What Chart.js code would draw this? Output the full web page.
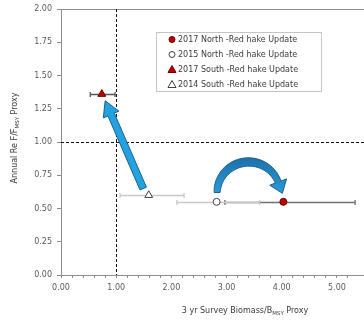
<!DOCTYPE html>
<html>
<head>
<meta charset="utf-8">
<script src="https://cdn.jsdelivr.net/npm/chart.js@4/dist/chart.umd.min.js"></script>
<style>
  html, body { margin: 0; padding: 0; background: #fff; overflow: hidden; }
  #wrap { width: 370px; height: 321px; position: relative; }
  #kobe { display: block; }
</style>
</head>
<body>
<div id="wrap"><canvas id="kobe"></canvas></div>
<script>
  // stock status points, one per assessment
  var seriesLabels = ['2017 North -Red hake Update', '2015 North -Red hake Update', '2017 South -Red hake Update', '2014 South -Red hake Update'];
  var biomassRatio = [4.03, 2.82, 0.74, 1.59];
  var fRatio       = [0.55, 0.55, 1.36, 0.60];
  var biomassLow   = [2.97, 2.10, 0.53, 1.07];
  var biomassHigh  = [5.33, 3.60, 0.98, 2.23];

  var markerStyle  = ['circle', 'circle', 'triangle', 'triangle'];
  var markerFill   = ['#c00000', '#ffffff', '#c00000', '#ffffff'];
  var markerEdge   = ['#6b0000', '#404040', '#6b0000', '#404040'];
  var markerSize   = [3.5, 3.5, 4.5, 4.5];
  var errColor     = ['#6e6e6e', '#c8c8c8', '#555555', '#c8c8c8'];

  // reference lines at F/Fmsy = 1 and B/Bmsy = 1
  var refX = 1.0, refY = 1.0;

  // arrows showing the change between assessments (data units)
  var southArrow = { from: [1.49, 0.65], to: [0.80, 1.31] };
  var northArc = { center: [3.40, 0.62], left: 2.83, top: 0.85 };

  var FONT = '"DejaVu Sans", Verdana, sans-serif';

  var datasets = seriesLabels.map(function (lbl, i) {
    return {
      label: lbl,
      data: [{ x: biomassRatio[i], y: fRatio[i] }],
      pointStyle: markerStyle[i],
      pointRadius: markerSize[i],
      pointBackgroundColor: markerFill[i],
      pointBorderColor: markerEdge[i],
      pointBorderWidth: 1,
      showLine: false
    };
  });

  function near(v) { return Math.abs(v - Math.round(v)) < 1e-6; }

  var decor = {
    id: 'decor',
    beforeDatasetsDraw: function (chart) {
      var c = chart.ctx, a = chart.chartArea, xs = chart.scales.x, ys = chart.scales.y;
      c.save();
      // frame
      c.strokeStyle = '#8c8c8c'; c.lineWidth = 1;
      c.strokeRect(a.left + 0.5, a.top + 0.5, a.right - a.left, a.bottom - a.top);
      // dashed reference lines
      c.strokeStyle = '#111'; c.setLineDash([3, 2]);
      var px = Math.round(xs.getPixelForValue(refX)) + 0.5;
      var py = Math.round(ys.getPixelForValue(refY)) + 0.5;
      c.beginPath(); c.moveTo(px, a.top); c.lineTo(px, a.bottom); c.stroke();
      c.beginPath(); c.moveTo(a.left, py); c.lineTo(a.right, py); c.stroke();
      c.setLineDash([]);

      // horizontal error bars
      for (var i = 0; i < biomassRatio.length; i++) {
        var y = Math.round(ys.getPixelForValue(fRatio[i])) + 0.5;
        var x0 = xs.getPixelForValue(biomassLow[i]), x1 = xs.getPixelForValue(biomassHigh[i]);
        c.strokeStyle = errColor[i]; c.lineWidth = 1.3;
        c.beginPath();
        c.moveTo(x0, y); c.lineTo(x1, y);
        c.moveTo(x0, y - 2.5); c.lineTo(x0, y + 2.5);
        c.moveTo(x1, y - 2.5); c.lineTo(x1, y + 2.5);
        c.stroke();
      }

      // straight arrow (south)
      var tx = xs.getPixelForValue(southArrow.from[0]), ty = ys.getPixelForValue(southArrow.from[1]);
      var hx = xs.getPixelForValue(southArrow.to[0]), hy = ys.getPixelForValue(southArrow.to[1]);
      var dx = hx - tx, dy = hy - ty, len = Math.sqrt(dx * dx + dy * dy);
      var ux = dx / len, uy = dy / len, nx = -uy, ny = ux;
      var sw = 3.5, hw = 8.5, hl = 15;
      var bx = hx - ux * hl, by = hy - uy * hl;
      c.beginPath();
      c.moveTo(tx + nx * sw, ty + ny * sw);
      c.lineTo(bx + nx * sw, by + ny * sw);
      c.lineTo(bx + nx * hw, by + ny * hw);
      c.lineTo(hx, hy);
      c.lineTo(bx - nx * hw, by - ny * hw);
      c.lineTo(bx - nx * sw, by - ny * sw);
      c.lineTo(tx - nx * sw, ty - ny * sw);
      c.closePath();
      c.fillStyle = '#24a2e0'; c.fill();
      c.strokeStyle = '#1a5f8e'; c.lineWidth = 1; c.stroke();

      // curved arrow (north)
      var cx = xs.getPixelForValue(northArc.center[0]), cy = ys.getPixelForValue(northArc.center[1]);
      var rx = cx - xs.getPixelForValue(northArc.left);
      var ry = cy - ys.getPixelForValue(northArc.top);
      var t0 = Math.PI, t1 = 2 * Math.PI - 0.35, steps = 40;
      var inner = [], outer = [];
      for (var k = 0; k <= steps; k++) {
        var t = t0 + (t1 - t0) * k / steps;
        var w = 3.0 + 1.2 * Math.sin((t - t0) / (t1 - t0) * Math.PI);
        var ex = cx + rx * Math.cos(t), ey = cy + ry * Math.sin(t);
        var gx = rx * Math.cos(t), gy = ry * Math.sin(t), gl = Math.sqrt(gx * gx + gy * gy);
        outer.push([ex + gx / gl * w, ey + gy / gl * w]);
        inner.push([ex - gx / gl * w, ey - gy / gl * w]);
      }
      var pe = [cx + rx * Math.cos(t1), cy + ry * Math.sin(t1)];
      var tdx = -rx * Math.sin(t1), tdy = ry * Math.cos(t1), tl = Math.sqrt(tdx * tdx + tdy * tdy);
      tdx /= tl; tdy /= tl;
      var ndx = -tdy, ndy = tdx;
      c.beginPath();
      c.moveTo(outer[0][0], outer[0][1]);
      for (k = 1; k <= steps; k++) c.lineTo(outer[k][0], outer[k][1]);
      c.lineTo(pe[0] - ndx * 9, pe[1] - ndy * 9);
      c.lineTo(pe[0] + tdx * 12, pe[1] + tdy * 12);
      c.lineTo(pe[0] + ndx * 9, pe[1] + ndy * 9);
      for (k = steps; k >= 0; k--) c.lineTo(inner[k][0], inner[k][1]);
      c.closePath();
      var grad = c.createLinearGradient(cx, cy - ry - 6, cx, cy + 10);
      grad.addColorStop(0, '#1b6fa8'); grad.addColorStop(1, '#2ea6e0');
      c.fillStyle = grad; c.fill();
      c.strokeStyle = '#1a5f8e'; c.lineWidth = 1; c.stroke();
      c.restore();
    },
    afterDraw: function (chart) {
      var c = chart.ctx;
      c.save();
      // legend box
      c.strokeStyle = '#c4c4c4'; c.lineWidth = 1;
      c.fillStyle = '#fff';
      c.fillRect(156.5, 32.5, 165, 59);
      c.strokeRect(156.5, 32.5, 165, 59);
      c.font = '8px ' + FONT; c.textBaseline = 'middle'; c.textAlign = 'left';
      for (var i = 0; i < seriesLabels.length; i++) {
        var ry = 39.5 + i * 15;
        c.fillStyle = markerFill[i]; c.strokeStyle = markerEdge[i];
        c.beginPath();
        if (markerStyle[i] === 'circle') { c.arc(172, ry, 3, 0, Math.PI * 2); }
        else { c.moveTo(172, ry - 4); c.lineTo(176, ry + 3); c.lineTo(168, ry + 3); c.closePath(); }
        c.fill(); c.stroke();
        c.fillStyle = '#3a3a3a';
        c.fillText(seriesLabels[i], 178, ry + 0.5);
      }
      // axis titles with subscripts
      drawSubTitle(c, ['3 yr Survey Biomass/B', 'MSY', ' Proxy'], 245, 311, 0);
      drawSubTitle(c, ['Annual Re F/F', 'MSY', ' Proxy'], 15, 138, -Math.PI / 2);
      c.restore();
    }
  };

  function drawSubTitle(c, parts, x, y, rot) {
    c.save();
    c.translate(x, y); c.rotate(rot);
    c.textBaseline = 'middle'; c.textAlign = 'left'; c.fillStyle = '#3a3a3a';
    var main = '8px ' + FONT, sub = '5.5px ' + FONT;
    c.font = main; var w0 = c.measureText(parts[0]).width, w2 = c.measureText(parts[2]).width;
    c.font = sub; var w1 = c.measureText(parts[1]).width;
    var sx = -(w0 + w1 + w2) / 2;
    c.font = main; c.fillText(parts[0], sx, 0);
    c.font = sub; c.fillText(parts[1], sx + w0, 2.5);
    c.font = main; c.fillText(parts[2], sx + w0 + w1, 0);
    c.restore();
  }

  new Chart(document.getElementById('kobe'), {
    type: 'scatter',
    data: { datasets: datasets },
    plugins: [decor],
    options: {
      responsive: true,
      maintainAspectRatio: false,
      animation: false,
      events: [],
      layout: { padding: { top: 9, left: 0, right: 0, bottom: 0 } },
      plugins: { legend: { display: false }, tooltip: { enabled: false } },
      scales: {
        x: {
          type: 'linear', min: 0, max: 5.5,
          afterFit: function (s) { s.height = 46; },
          grid: { drawOnChartArea: false, tickLength: 3, color: '#8c8c8c' },
          border: { color: '#8c8c8c' },
          ticks: {
            stepSize: 0.2, autoSkip: false, maxTicksLimit: 100, maxRotation: 0, padding: 5,
            color: '#5a5a5a', font: { family: FONT, size: 8 },
            callback: function (v) { return near(v) ? Math.round(v).toFixed(2) : ''; }
          }
        },
        y: {
          type: 'linear', min: 0, max: 2,
          afterFit: function (s) { s.width = 61; s.paddingTop = 0; s.paddingBottom = 0; },
          grid: { drawOnChartArea: false, tickLength: 4, color: '#8c8c8c' },
          border: { color: '#8c8c8c' },
          ticks: {
            stepSize: 0.25, padding: 5,
            color: '#5a5a5a', font: { family: FONT, size: 8 },
            callback: function (v) { return v.toFixed(2); }
          }
        }
      }
    }
  });
</script>
</body>
</html>
